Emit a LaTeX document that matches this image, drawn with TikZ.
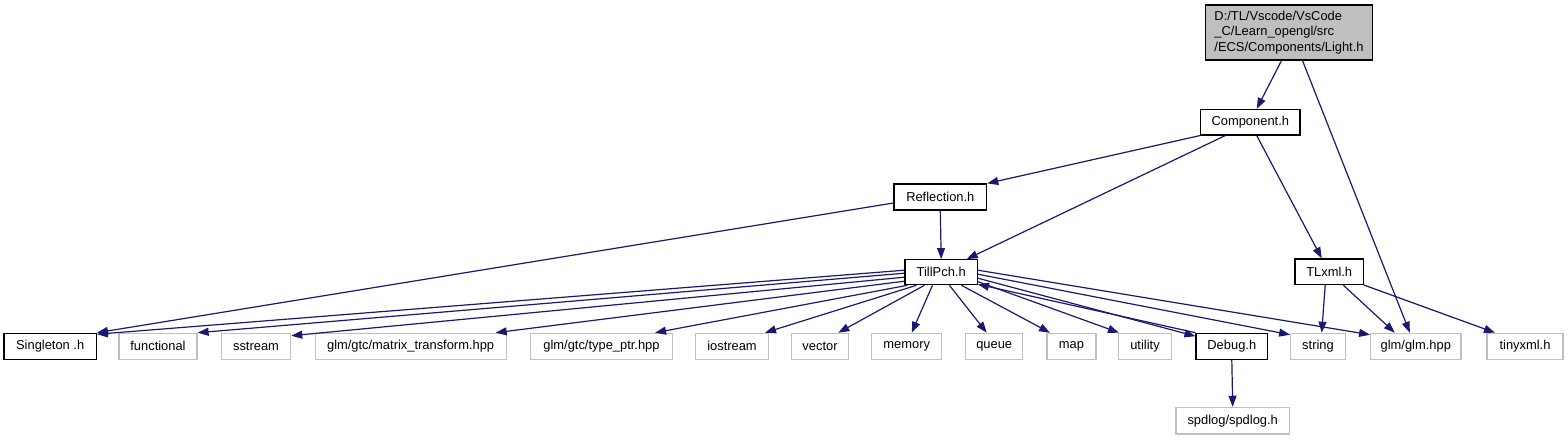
\documentclass[tikz,border=0pt]{standalone}
\usepackage{fontspec}
\setmainfont{Liberation Sans}
\usetikzlibrary{arrows.meta}
\definecolor{edgeblue}{HTML}{191970}
\definecolor{greyseventyfive}{HTML}{BFBFBF}
\begin{document}
\begin{tikzpicture}[x=1pt,y=-1pt,
  box/.style={draw=black, line width=1.2pt, inner sep=0pt, minimum height=25.5pt,
    font=\fontsize{12.9}{15.5}\selectfont, anchor=center},
  ext/.style={box, draw=greyseventyfive},
  dep/.style={draw=edgeblue, line width=1.2pt, -{Triangle[length=11pt,width=8pt]}}]
\useasboundingbox[fill=white] (0,0) rectangle (1568,440);
% upper nodes
\node[box, fill=greyseventyfive, minimum width=167pt, minimum height=55pt, align=left] (light) at (1289,32.5)
  {D:/TL/Vscode/VsCode\\\_C/Learn\_opengl/src\\/ECS/Components/Light.h};
\node[box, minimum width=99.3pt] (comp) at (1250.3,122.2) {Component.h};
\node[box, minimum width=92.7pt, minimum height=26pt] (refl) at (940.3,197) {Reflection.h};
\node[box, minimum width=72.3pt, minimum height=25pt] (tp) at (941.2,272.2) {TillPch.h};
\node[box, minimum width=68.3pt] (tlxml) at (1329.2,271.7) {TLxml.h};
% bottom row
\node[box, minimum width=92.3pt, minimum height=26pt] (single) at (50.2,346.3) {Singleton .h};
\node[ext, minimum width=78pt, minimum height=26pt] (func) at (158,346.3) {functional};
\node[ext, minimum width=69.3pt, minimum height=26pt] (sstream) at (256,346.3) {sstream};
\node[ext, minimum width=191pt, minimum height=26pt] (mat) at (410.6,346.3) {glm/gtc/matrix\_transform.hpp};
\node[ext, minimum width=141.6pt, minimum height=26pt] (tptr) at (601.5,346.3) {glm/gtc/type\_ptr.hpp};
\node[ext, minimum width=72.6pt, minimum height=26pt] (ios) at (732,346.3) {iostream};
\node[ext, minimum width=56.6pt, minimum height=26pt] (vec) at (820,346.3) {vector};
\node[ext, minimum width=70pt, minimum height=26pt] (mem) at (906.7,346.3) {memory};
\node[ext, minimum width=57pt, minimum height=26pt] (queue) at (994.2,346.3) {queue};
\node[ext, minimum width=49pt, minimum height=26pt] (map) at (1071.5,346.3) {map};
\node[ext, minimum width=53.5pt, minimum height=26pt] (util) at (1145,346.3) {utility};
\node[box, minimum width=71.5pt, minimum height=26pt] (debug) at (1231.8,346.3) {Debug.h};
\node[ext, minimum width=54.6pt, minimum height=26pt] (string) at (1318,346.3) {string};
\node[ext, minimum width=90.3pt, minimum height=26pt] (glm) at (1415.8,346.3) {glm/glm.hpp};
\node[ext, minimum width=76pt, minimum height=26pt] (tiny) at (1525,346.3) {tinyxml.h};
\node[ext, minimum width=113.3pt, minimum height=26.7pt] (spd) at (1232.7,420.7) {spdlog/spdlog.h};
% edges
\draw[dep] ([xshift=-7.5pt]light.south) -- ([xshift=6.4pt]comp.north);
\draw[dep] ([xshift=13.5pt]light.south) -- ([xshift=-6pt]glm.north);
\draw[dep] (comp.south west) -- (refl.north east);
\draw[dep] ([xshift=-25pt]comp.south) -- ([xshift=25.5pt]tp.north);
\draw[dep] ([xshift=6.4pt]comp.south) -- ([xshift=-7.5pt]tlxml.north);
\draw[dep] (refl.south) -- (tp.north);
\draw[dep] ([yshift=-6pt]refl.west) -- (single.north east);
\draw[dep] ([yshift=2pt]tp.west) -- ([yshift=-1.5pt]single.north east);
\draw[dep] ([yshift=-1pt]tp.west) -- (func.north east);
\draw[dep] ([yshift=-5pt]tp.west) -- ([yshift=-3pt]sstream.north east);
\draw[dep] ([yshift=-9pt]tp.west) -- ([xshift=-11pt]mat.north east);
\draw[dep] ([xshift=3pt]tp.south west) -- ([xshift=53.5pt]tptr.north);
\draw[dep] ([xshift=12pt]tp.south west) -- ([xshift=33pt]ios.north);
\draw[dep] ([xshift=20pt]tp.south west) -- ([xshift=18.3pt]vec.north);
\draw[dep] ([xshift=28pt]tp.south west) -- ([xshift=5pt]mem.north);
\draw[dep] ([xshift=45pt]tp.south west) -- ([xshift=-7.5pt]queue.north);
\draw[dep] ([xshift=57pt]tp.south west) -- ([xshift=-21.5pt]map.north);
\draw[dep] ([yshift=-9.5pt]tp.east) -- ([xshift=-26pt]util.north);
\draw[dep] ([yshift=-6pt]tp.east) -- ([yshift=-3.5pt]debug.north west);
\draw[dep] (debug.north west) -- ([yshift=1pt]tp.south east);
\draw[dep] ([yshift=-2pt]tp.east) -- ([yshift=-2pt]string.north west);
\draw[dep] ([yshift=2pt]tp.east) -- ([yshift=-2pt]glm.north west);
\draw[dep] ([xshift=-4pt]tlxml.south) -- ([xshift=3.7pt]string.north);
\draw[dep] ([xshift=14pt]tlxml.south) -- ([xshift=-21pt]glm.north);
\draw[dep] (tlxml.south east) -- ([xshift=-30pt]tiny.north);
\draw[dep] (debug.south) -- (spd.north);
\end{tikzpicture}
\end{document}
